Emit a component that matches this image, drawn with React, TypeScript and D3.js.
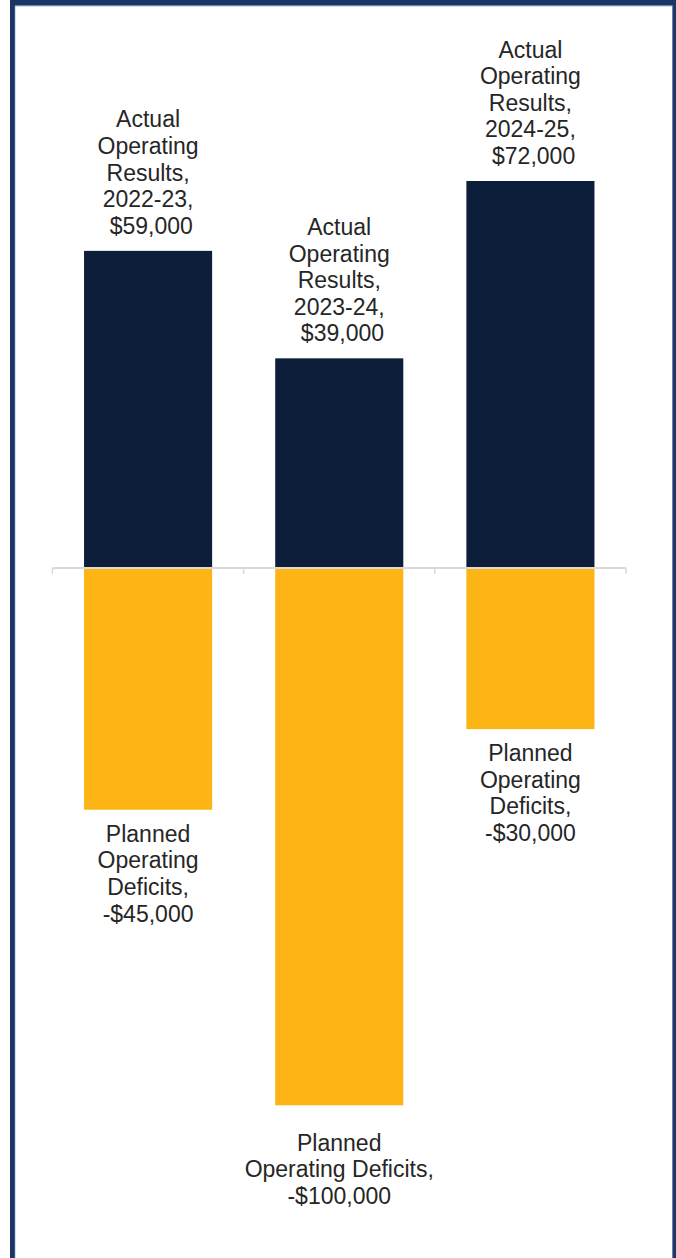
import React from "react";
import * as d3 from "d3";

const categories = ["2022-23", "2023-24", "2024-25"];
const actualResults = [59000, 39000, 72000];
const plannedDeficits = [-45000, -100000, -30000];
const actualLabels = [
  ["Actual", "Operating", "Results,", "2022-23,", " $59,000"],
  ["Actual", "Operating", "Results,", "2023-24,", " $39,000"],
  ["Actual", "Operating", "Results,", "2024-25,", " $72,000"],
];
const plannedLabels = [
  ["Planned", "Operating", "Deficits,", "-$45,000"],
  ["Planned", "Operating Deficits,", "-$100,000"],
  ["Planned", "Operating", "Deficits,", "-$30,000"],
];

const W = 676;
const H = 1258;
const NAVY = "#0d1e3a";
const GOLD = "#fdb515";
const FRAME = "#1b3566";
const TEXT = "#262626";
const FONT = "'Liberation Sans', Arial, sans-serif";
const FS = 23;
const LH = 26.6;

export default function App() {
  const x = d3.scaleBand<string>().domain(categories).range([52.5, 626]).paddingInner(0.33).paddingOuter(0.165);
  const y = d3.scaleLinear().domain([-100000, 72000]).range([1105.3, 181]);
  const y0 = y(0);

  return (
    <div style={{ position: "absolute", left: 0, top: 0 }}>
      <svg width={W} height={H} style={{ display: "block", background: "#fff" }}>
        {/* frame */}
        <rect x={10} y={0} width={W - 10} height={5.5} fill={FRAME} />
        <rect x={10} y={0} width={5} height={H} fill={FRAME} />
        <rect x={672.5} y={0} width={4} height={H} fill={FRAME} />
        <line x1={15} x2={672.5} y1={5.8} y2={5.8} stroke="#5673a6" strokeWidth={0.8} />
        <line x1={14.8} x2={14.8} y1={6} y2={H} stroke="#5673a6" strokeWidth={0.8} />
        <line x1={672.7} x2={672.7} y1={6} y2={H} stroke="#5673a6" strokeWidth={0.8} />

        {/* bars */}
        {categories.map((c, i) => (
          <g key={c}>
            <rect x={x(c)} y={y(actualResults[i])} width={x.bandwidth()} height={y0 - y(actualResults[i])} fill={NAVY} />
            <rect x={x(c)} y={y0} width={x.bandwidth()} height={y(plannedDeficits[i]) - y0} fill={GOLD} />
          </g>
        ))}

        {/* axis */}
        <line x1={52.5} x2={626} y1={y0} y2={y0} stroke="#d9d9d9" strokeWidth={2} />
        {[...categories.map((c) => (x(c) as number) - (x.step() * x.paddingInner()) / 2), 626].map((tx, i) => (
          <line key={i} x1={tx} x2={tx} y1={y0} y2={y0 + 6} stroke="#d9d9d9" strokeWidth={1.5} />
        ))}

        {/* labels */}
        {categories.map((c, i) => {
          const cx = (x(c) as number) + x.bandwidth() / 2;
          const top = actualLabels[i];
          const topBase = y(actualResults[i]) - 17 - (top.length - 1) * LH;
          const bot = plannedLabels[i];
          const botBase = y(plannedDeficits[i]) + 32 + ((4 - bot.length) * LH) / 2;
          return (
            <g key={"l" + c} fontFamily={FONT} fontSize={FS} fill={TEXT} textAnchor="middle">
              {top.map((t, j) => (
                <text key={"t" + j} x={cx} y={topBase + j * LH} xmlSpace="preserve" style={{ whiteSpace: "pre" }}>{t}</text>
              ))}
              {bot.map((t, j) => (
                <text key={"b" + j} x={cx} y={botBase + j * LH}>{t}</text>
              ))}
            </g>
          );
        })}
      </svg>
    </div>
  );
}
